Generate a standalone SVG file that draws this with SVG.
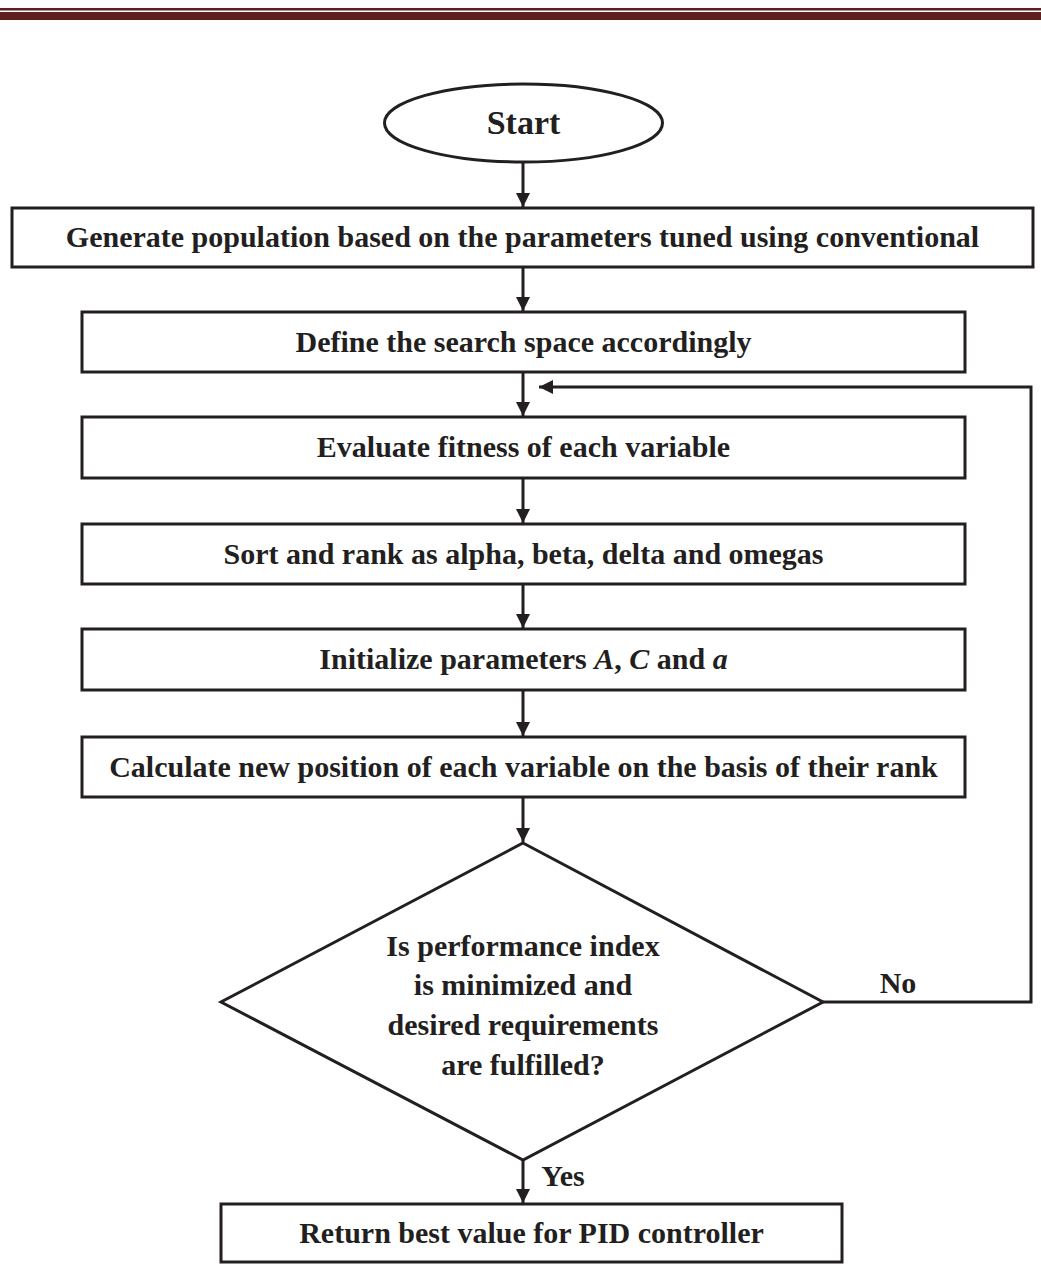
<svg xmlns="http://www.w3.org/2000/svg" width="1041" height="1264" viewBox="0 0 1041 1264">
<style>
.box{fill:#fff;stroke:#231f20;stroke-width:3}
.t{font-family:"Liberation Serif","Times New Roman",serif;font-weight:bold;font-size:30px;fill:#231f20;text-anchor:middle}
.m{font-style:italic}
.c{fill:none;stroke:#231f20;stroke-width:3}
</style>
<defs>
<marker id="ah" markerUnits="userSpaceOnUse" markerWidth="16" markerHeight="16" refX="14" refY="7" orient="auto">
<path d="M0,0 L14,7 L0,14 Z" fill="#231f20"/>
</marker>
</defs>
<rect width="1041" height="1264" fill="#fff"/>
<g id="header">
<rect x="0" y="8" width="1041" height="2.5" fill="#5f1f1f"/>
<rect x="0" y="12" width="1041" height="8" fill="#5f1f1f"/>
</g>
<g id="connectors">
<line class="c" x1="523" y1="162" x2="523" y2="207" marker-end="url(#ah)"/>
<line class="c" x1="523" y1="268" x2="523" y2="311" marker-end="url(#ah)"/>
<line class="c" x1="523" y1="373" x2="523" y2="416" marker-end="url(#ah)"/>
<line class="c" x1="523" y1="479" x2="523" y2="523" marker-end="url(#ah)"/>
<line class="c" x1="523" y1="585" x2="523" y2="628" marker-end="url(#ah)"/>
<line class="c" x1="523" y1="691" x2="523" y2="736" marker-end="url(#ah)"/>
<line class="c" x1="523" y1="798" x2="523" y2="842" marker-end="url(#ah)"/>
<line class="c" x1="523" y1="1160" x2="523" y2="1203" marker-end="url(#ah)"/>
<polyline class="c" points="823,1002 1031,1002 1031,387 539,387" marker-end="url(#ah)"/>
</g>
<g id="start">
<ellipse class="box" cx="523.5" cy="123" rx="139" ry="39"/>
<text class="t" x="523.5" y="134" style="font-size:34px">Start</text>
</g>
<g id="generate">
<rect class="box" x="12" y="208" width="1021" height="59"/>
<text class="t" x="522.5" y="247">Generate population based on the parameters tuned using conventional</text>
</g>
<g id="define">
<rect class="box" x="82" y="312" width="883" height="60"/>
<text class="t" x="523.5" y="352">Define the search space accordingly</text>
</g>
<g id="evaluate">
<rect class="box" x="82" y="417" width="883" height="61"/>
<text class="t" x="523.5" y="457">Evaluate fitness of each variable</text>
</g>
<g id="sort">
<rect class="box" x="82" y="524" width="883" height="60"/>
<text class="t" x="523.5" y="564">Sort and rank as alpha, beta, delta and omegas</text>
</g>
<g id="initialize">
<rect class="box" x="82" y="629" width="883" height="61"/>
<text class="t" x="523.5" y="669">Initialize parameters <tspan class="m">A</tspan>, <tspan class="m">C</tspan> and <tspan class="m">a</tspan></text>
</g>
<g id="calculate">
<rect class="box" x="82" y="737" width="883" height="60"/>
<text class="t" x="523.5" y="777">Calculate new position of each variable on the basis of their rank</text>
</g>
<g id="decision">
<polygon class="box" points="523,843 823,1002 523,1160 221,1002"/>
<text class="t" x="523" y="956">Is performance index</text>
<text class="t" x="523" y="995">is minimized and</text>
<text class="t" x="523" y="1035">desired requirements</text>
<text class="t" x="523" y="1075">are fulfilled?</text>
</g>
<g id="labels">
<text class="t" x="898" y="993">No</text>
<text class="t" x="563" y="1186">Yes</text>
</g>
<g id="return">
<rect class="box" x="221" y="1204" width="621" height="58"/>
<text class="t" x="531.5" y="1243">Return best value for PID controller</text>
</g>
</svg>
